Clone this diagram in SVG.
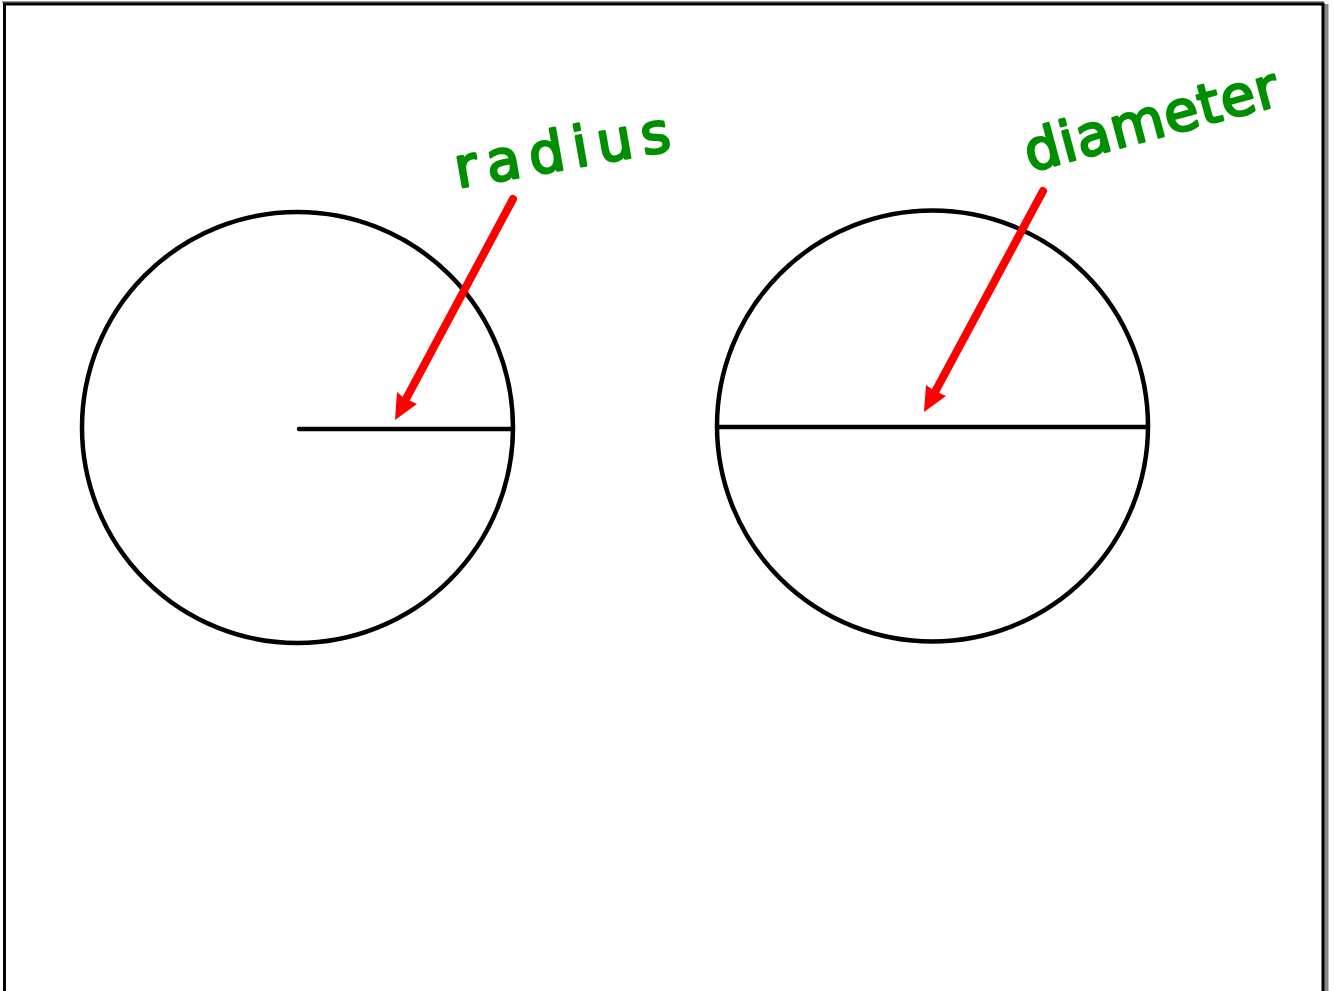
<svg xmlns="http://www.w3.org/2000/svg" width="1334" height="991" viewBox="0 0 1334 991">
<style>
.shape{fill:none;stroke:#000;stroke-width:4.5;stroke-linecap:round}
.arrow{fill:none;stroke:#ff0000;stroke-width:8;stroke-linecap:round}
.head{fill:#ff0000}
.label{font-family:"DejaVu Sans",sans-serif;font-size:56px;fill:#008f00;stroke:#008f00;stroke-width:2.5;stroke-linejoin:round}
</style>
<rect x="0" y="0" width="1334" height="991" fill="#fff"/>
<g id="frame">
<line x1="1326" y1="4" x2="1326" y2="991" stroke="#888" stroke-width="5"/>
<line x1="2" y1="2" x2="1324" y2="2" stroke="#999" stroke-width="2"/>
<polyline points="4.5,991 4.5,4 1323,4 1323,991" fill="none" stroke="#000" stroke-width="3"/>
</g>
<g id="circle-radius">
<ellipse class="shape" cx="297.5" cy="427.5" rx="215.5" ry="215.5"/>
<line class="shape" x1="299" y1="429" x2="512" y2="429"/>
</g>
<g id="circle-diameter">
<ellipse class="shape" cx="932.5" cy="426" rx="215.5" ry="215.5"/>
<line class="shape" x1="718" y1="427" x2="1147" y2="427"/>
</g>
<g id="label-radius">
<text class="label" x="458" y="188" letter-spacing="9" transform="rotate(-10 458 188)">radius</text>
</g>
<g id="label-diameter">
<text class="label" x="1030" y="172" letter-spacing="1" transform="rotate(-15 1030 172)">diameter</text>
</g>
<g id="connectors">
<line class="arrow" x1="513" y1="199" x2="406" y2="399"/>
<polygon class="head" points="395,420 397,392 404,398 417,404"/>
<line class="arrow" x1="1043" y1="191" x2="935" y2="392"/>
<polygon class="head" points="924,412 926,385 933,390 946,396"/>
</g>
</svg>
